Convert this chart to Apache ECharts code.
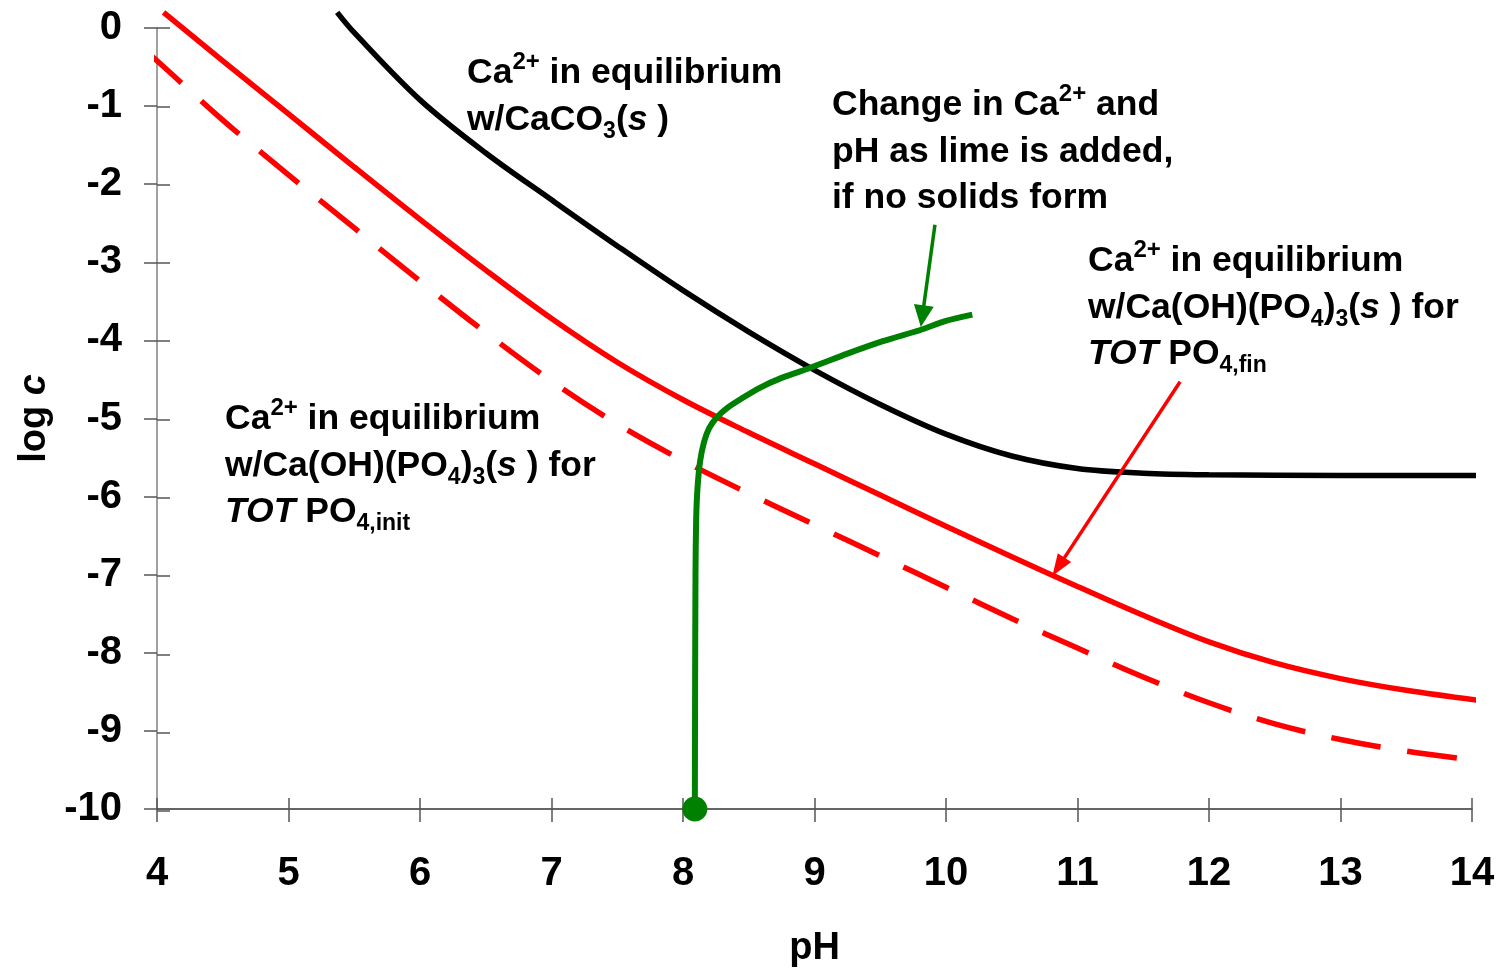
<!DOCTYPE html>
<html>
<head>
<meta charset="utf-8">
<script src="https://cdn.jsdelivr.net/npm/echarts@6/dist/echarts.min.js"></script>
<style>html,body{margin:0;padding:0;background:#fff}#c{width:1502px;height:973px}</style>
</head>
<body>
<div id="c"></div>
<script>
// ---- data ----
const phBlack   = [5.37, 5.5, 6.0, 6.5, 7.0, 7.5, 8.0, 8.5, 9.0, 9.5, 10.0, 10.5, 11.0, 11.5, 12.0, 13.0, 14.1];
const logcBlack = [0.2, -0.06, -0.92, -1.6, -2.2, -2.79, -3.36, -3.89, -4.38, -4.82, -5.2, -5.48, -5.64, -5.7, -5.72, -5.73, -5.73];

const phRedFin   = [4.05, 4.5, 5.0, 5.5, 6.0, 6.5, 7.0, 7.5, 8.0, 8.5, 9.0, 9.5, 10.0, 10.5, 11.0, 11.5, 12.0, 12.5, 13.0, 13.5, 14.1];
const logcRedFin = [0.2, -0.42, -1.1, -1.78, -2.45, -3.1, -3.72, -4.28, -4.76, -5.18, -5.58, -5.98, -6.38, -6.77, -7.15, -7.52, -7.86, -8.13, -8.33, -8.48, -8.62];

const phRedInit   = [3.9, 4.0, 4.5, 5.0, 5.5, 6.0, 6.5, 7.0, 7.5, 8.0, 8.5, 9.0, 9.5, 10.0, 10.5, 11.0, 11.5, 12.0, 12.5, 13.0, 13.5, 14.1];
const logcRedInit = [-0.28, -0.42, -1.18, -1.88, -2.56, -3.24, -3.9, -4.52, -5.07, -5.54, -5.96, -6.36, -6.76, -7.16, -7.56, -7.94, -8.31, -8.64, -8.91, -9.11, -9.26, -9.39];

const phGreen   = [8.09, 8.092, 8.095, 8.10, 8.11, 8.13, 8.16, 8.20, 8.26, 8.34, 8.44, 8.58, 8.75, 8.97, 9.25, 9.52, 9.8, 10.0, 10.2];
const logcGreen = [-10, -8.5, -7.0, -6.3, -5.9, -5.55, -5.3, -5.12, -4.98, -4.86, -4.75, -4.61, -4.48, -4.35, -4.17, -4.01, -3.87, -3.75, -3.67];

// annotation arrows: [start, end] in data coordinates
const greenArrow = [[9.916, -2.52], [9.82, -3.69]];
const redArrow   = [[11.78, -4.53], [10.855, -6.90]];

const xMin = 4, xMax = 14, xStep = 1;
const yMin = -10, yMax = 0, yStep = 1;

// ---- helpers ----
const zip = (a, b) => a.map((v, i) => [v, b[i]]);
const FF = '"Liberation Sans", Arial, Helvetica, sans-serif';
const FS = 35.5;
const richStyles = {
  sup: { fontFamily: FF, fontWeight: 'bold', fontSize: 24, verticalAlign: 'top', lineHeight: 28, fill: '#000' },
  sub: { fontFamily: FF, fontWeight: 'bold', fontSize: 23, verticalAlign: 'bottom', lineHeight: 30, fill: '#000' },
  i:   { fontFamily: FF, fontWeight: 'bold', fontStyle: 'italic', fontSize: FS, lineHeight: 46, fill: '#000' }
};
function label(text, left, top) {
  return {
    type: 'text', left: left, top: top, z: 100,
    style: {
      text: text, fontFamily: FF, fontWeight: 'bold', fontSize: FS, lineHeight: 46.5,
      fill: '#000', rich: richStyles
    }
  };
}

const chart = echarts.init(document.getElementById('c'), null, { renderer: 'canvas' });
const tickStyle = { color: '#555', width: 1.5 };
const gridBox = { left: 157, right: 30, top: 28, bottom: 162 };
const option = {
  animation: false,
  backgroundColor: '#fff',
  grid: [Object.assign({}, gridBox), Object.assign({}, gridBox)],
  xAxis: [
    {
      gridIndex: 0, type: 'value', min: xMin, max: xMax, interval: xStep, position: 'bottom',
      axisLine: { show: true, onZero: false, lineStyle: { color: '#333', width: 1.5 } },
      axisTick: { show: true, length: 13, lineStyle: tickStyle },
      axisLabel: { fontSize: 40, fontWeight: 'bold', fontFamily: FF, color: '#000', margin: 45 },
      splitLine: { show: false },
      name: 'pH', nameLocation: 'middle', nameGap: 121,
      nameTextStyle: { fontSize: 38, fontWeight: 'bold', fontFamily: FF, color: '#000' }
    },
    {
      gridIndex: 1, type: 'value', min: xMin, max: xMax, interval: xStep, position: 'bottom',
      axisLine: { show: false, onZero: false }, axisLabel: { show: false }, splitLine: { show: false },
      axisTick: { show: true, inside: true, length: 13, lineStyle: tickStyle }
    }
  ],
  yAxis: [
    {
      gridIndex: 0, type: 'value', min: yMin, max: yMax, interval: yStep, position: 'left',
      axisLine: { show: true, onZero: false, lineStyle: { color: '#808080', width: 1.5 } },
      axisTick: { show: true, length: 13, lineStyle: tickStyle },
      axisLabel: { fontSize: 40, fontWeight: 'bold', fontFamily: FF, color: '#000', margin: 35 },
      splitLine: { show: false },
      name: '{n|log }{i|c}', nameLocation: 'middle', nameGap: 98, nameRotate: 90,
      nameTextStyle: {
        rich: {
          n: { fontSize: 38, fontWeight: 'bold', fontFamily: FF, color: '#000' },
          i: { fontSize: 38, fontWeight: 'bold', fontStyle: 'italic', fontFamily: FF, color: '#000' }
        }
      }
    },
    {
      gridIndex: 1, type: 'value', min: yMin, max: yMax, interval: yStep, position: 'left',
      axisLine: { show: false, onZero: false }, axisLabel: { show: false }, splitLine: { show: false },
      axisTick: { show: true, inside: true, length: 13, lineStyle: tickStyle }
    }
  ],
  series: [
    {
      name: 'CaCO3', type: 'line', data: zip(phBlack, logcBlack), smooth: 0.35, clip: false,
      showSymbol: false, lineStyle: { color: '#000', width: 5.5 }, z: 2
    },
    {
      name: 'fin', type: 'line', data: zip(phRedFin, logcRedFin), smooth: 0.35, clip: false,
      showSymbol: false, lineStyle: { color: '#ff0000', width: 5.5 }, z: 3,
      markLine: {
        silent: true, animation: false, label: { show: false },
        data: [[
          { coord: redArrow[0], symbol: 'none', lineStyle: { color: '#ff0000', width: 3.5, type: 'solid' } },
          { coord: redArrow[1], symbol: 'triangle', symbolSize: [16, 22] }
        ]]
      }
    },
    {
      name: 'init', type: 'line', data: zip(phRedInit, logcRedInit), smooth: 0.35, clip: false,
      showSymbol: false, lineStyle: { color: '#ff0000', width: 5.5, type: [50, 27] }, z: 3
    },
    {
      name: 'lime', type: 'line', data: zip(phGreen, logcGreen), smooth: 0.25, clip: false,
      showSymbol: false, lineStyle: { color: '#008000', width: 6 }, z: 4,
      markLine: {
        silent: true, animation: false, label: { show: false },
        data: [[
          { coord: greenArrow[0], symbol: 'none', lineStyle: { color: '#008000', width: 3.5, type: 'solid' } },
          { coord: greenArrow[1], symbol: 'triangle', symbolSize: [20, 22] }
        ]]
      }
    },
    {
      name: 'start', type: 'scatter', data: [[phGreen[0], logcGreen[0]]], clip: false,
      symbol: 'circle', symbolSize: 25, itemStyle: { color: '#008000', opacity: 1 }, z: 5
    }
  ],
  graphic: [
    label('Ca{sup|2+} in equilibrium\nw/CaCO{sub|3}({i|s} )', 467, 50),
    label('Change in Ca{sup|2+} and\npH as lime is added,\nif no solids form', 832, 82),
    label('Ca{sup|2+} in equilibrium\nw/Ca(OH)(PO{sub|4}){sub|3}({i|s} ) for\n{i|TOT} PO{sub|4,fin}', 1088, 238),
    label('Ca{sup|2+} in equilibrium\nw/Ca(OH)(PO{sub|4}){sub|3}({i|s} ) for\n{i|TOT} PO{sub|4,init}', 225, 396)
  ]
};
chart.setOption(option);
</script>
</body>
</html>
